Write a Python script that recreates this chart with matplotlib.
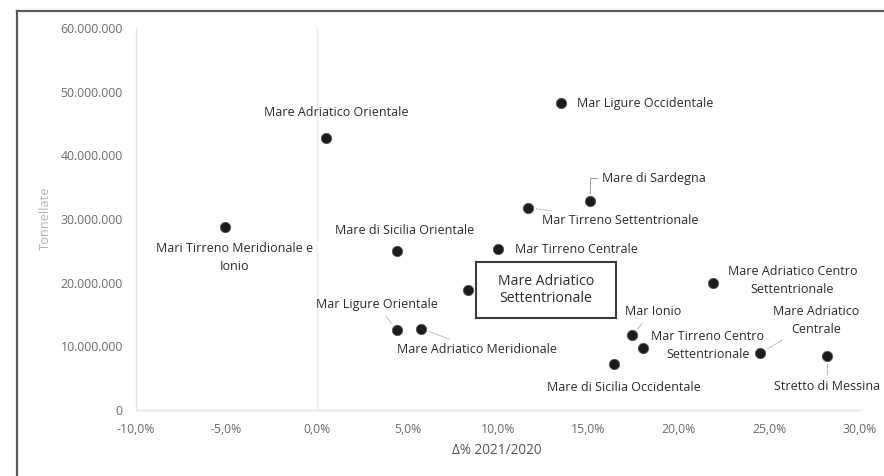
import matplotlib
matplotlib.use("Agg")
import matplotlib.pyplot as plt
from matplotlib.ticker import FuncFormatter, MultipleLocator
from matplotlib.lines import Line2D
from matplotlib.path import Path

plt.rcParams['font.family'] = ['Open Sans', 'DejaVu Sans']

names = [
    "Mare Adriatico Orientale",
    "Mar Ligure Occidentale",
    "Mare di Sardegna",
    "Mar Tirreno Settentrionale",
    "Mari Tirreno Meridionale e\nIonio",
    "Mare di Sicilia Orientale",
    "Mar Tirreno Centrale",
    "Mare Adriatico\nSettentrionale",
    "Mar Ligure Orientale",
    "Mare Adriatico Meridionale",
    "Mare Adriatico Centro\nSettentrionale",
    "Mar Ionio",
    "Mar Tirreno Centro\nSettentrionale",
    "Mare di Sicilia Occidentale",
    "Mare Adriatico\nCentrale",
    "Stretto di Messina",
]
delta_pct = [0.5, 13.5, 15.1, 11.65, -5.1, 4.4, 10.0, 8.35, 4.4, 5.75, 21.9, 17.4, 18.0, 16.4, 24.5, 28.2]
tonnellate = [42.8e6, 48.2e6, 32.8e6, 31.8e6, 28.8e6, 24.9e6, 25.3e6, 18.9e6, 12.6e6, 12.8e6,
              20.0e6, 11.8e6, 9.8e6, 7.2e6, 9.0e6, 8.5e6]

# label layout: (dx px, dy px, ha, leader)
layout = [
    (10, 25, 'center', None),
    (16, 0, 'left', None),
    (12, 23, 'left', 'angle'),
    (14, -13, 'left', 'line'),
    (10, -31, 'center', None),
    (8, 21, 'center', None),
    (17, -1, 'left', None),
    (78, 0, 'center', None),
    (-20, 25, 'center', 'line'),
    (56, -21, 'center', 'line'),
    (79, 2, 'center', None),
    (21, 23, 'center', 'line'),
    (65, 2, 'center', None),
    (10, -23, 'center', None),
    (56, 32, 'center', 'line'),
    (0, -31, 'center', 'line'),
]


def wide_box(x0, y0, width, height, mutation_size):
    padx = 1.55 * mutation_size
    pady = 0.85 * mutation_size
    x1, y1 = x0 + width + padx, y0 + height + pady
    x0, y0 = x0 - padx, y0 - pady
    return Path([(x0, y0), (x1, y0), (x1, y1), (x0, y1), (x0, y0)], closed=True)


W, H = 884, 476
fig = plt.figure(figsize=(W / 100, H / 100), dpi=100)
ax = fig.add_axes([136 / W, 1 - 410 / H, (860 - 136) / W, (410 - 28) / H])

ax.set_xlim(-10, 30)
ax.set_ylim(0, 60e6)
ax.xaxis.set_major_locator(MultipleLocator(5))
ax.yaxis.set_major_locator(MultipleLocator(10e6))
ax.xaxis.set_major_formatter(FuncFormatter(lambda v, p: f"{v:.1f}%".replace('.', ',')))
ax.yaxis.set_major_formatter(FuncFormatter(lambda v, p: f"{int(v):,}".replace(',', '.')))
ax.tick_params(axis='both', length=0, labelsize=8.8, labelcolor='#6b6b6b')
ax.tick_params(axis='x', pad=9.5)
ax.tick_params(axis='y', pad=9.5)
for s in ['top', 'right']:
    ax.spines[s].set_visible(False)
for s in ['left', 'bottom']:
    ax.spines[s].set_color('#e3e3e3')
    ax.spines[s].set_linewidth(1.0)
ax.axvline(0, color='#ececec', lw=1.0, zorder=0)

ax.scatter(delta_pct, tonnellate, s=55, color='#1c1c1c', edgecolors='#555555', linewidths=0.6, zorder=3)

for i, (name, x, y) in enumerate(zip(names, delta_pct, tonnellate)):
    dx, dy, ha, leader = layout[i]
    kw = dict(textcoords='offset pixels', ha=ha, va='center', fontsize=9,
              color='#2a2a2a', linespacing=1.45, zorder=4)
    if i == 7:
        kw.update(fontsize=10.1, linespacing=1.2,
                  bbox=dict(boxstyle=wide_box, fc='white', ec='#3a3a3a', lw=1.5))
    if leader == 'line':
        kw['arrowprops'] = dict(arrowstyle='-', color='#bdbdbd', lw=0.7, shrinkA=2, shrinkB=6)
    elif leader == 'angle':
        kw['arrowprops'] = dict(arrowstyle='-', color='#9a9a9a', lw=0.7, shrinkA=2, shrinkB=6,
                                connectionstyle='angle,angleA=0,angleB=90,rad=0')
    ax.annotate(name, xy=(x, y), xytext=(dx, dy), **kw)

fig.text(497 / W, 1 - 450 / H, "\u0394% 2021/2020", ha='center', va='center', fontsize=9.8, color='#555555')
fig.text(45 / W, 1 - 218 / H, "Tonnellate", ha='center', va='center', rotation=90, fontsize=9.3, color='#b5b5b5')

# outer frame (left and top edges visible)
fig.add_artist(Line2D([17 / W, 17 / W], [0, 1 - 11 / H], transform=fig.transFigure, color='#5a5a5a', lw=1.6))
fig.add_artist(Line2D([17 / W, 1], [1 - 11 / H, 1 - 11 / H], transform=fig.transFigure, color='#5a5a5a', lw=1.6))

fig.savefig("out.png", dpi=100)
